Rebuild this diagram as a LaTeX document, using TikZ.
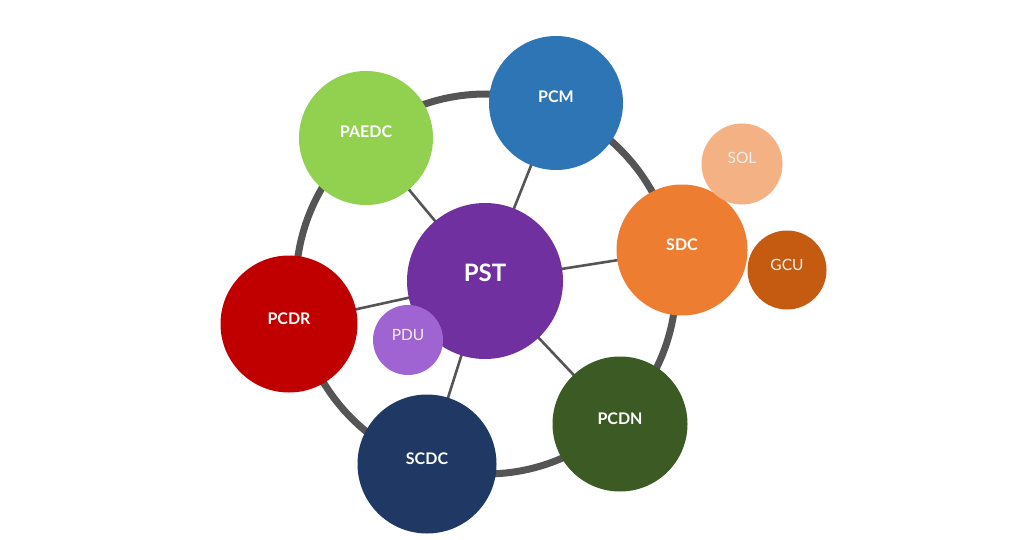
\documentclass[tikz,border=0pt]{standalone}
\usepackage{fontspec}
\setmainfont{Lato}
\usetikzlibrary{backgrounds}
\definecolor{cPAEDC}{HTML}{92D050}
\definecolor{cPCM}{HTML}{2E75B6}
\definecolor{cSDC}{HTML}{ED7D31}
\definecolor{cSOL}{HTML}{F4B183}
\definecolor{cGCU}{HTML}{C55A11}
\definecolor{cPST}{HTML}{7030A0}
\definecolor{cPDU}{HTML}{A064D2}
\definecolor{cPCDR}{HTML}{C00000}
\definecolor{cSCDC}{HTML}{1F3864}
\definecolor{cPCDN}{HTML}{3B5A24}
\definecolor{ringgray}{HTML}{555555}
\begin{document}
\begin{tikzpicture}[x=1pt,y=-1pt,
  bub/.style={circle,inner sep=0pt,text height=0pt,text depth=0pt,text=white,font=\bfseries\fontsize{16}{16}\selectfont},
  smallbub/.style={circle,inner sep=0pt,text height=0pt,text depth=0pt,text=white!94!black,font=\fontsize{15.5}{15.5}\selectfont},
  spoke/.style={draw=ringgray,line width=2.6pt},
  ring/.style={draw=ringgray,line width=7pt}]
\useasboundingbox (0,0) rectangle (1024,540);
\coordinate (rc) at (486,284);
\path
  (485,281) node[bub,minimum size=156pt,fill=cPST,font=\bfseries\fontsize{24}{24}\selectfont] (PST) {PST}
  (366,138) node[bub,minimum size=134pt,fill=cPAEDC] (PAEDC) {PAEDC}
  (556,103) node[bub,minimum size=134pt,fill=cPCM] (PCM) {PCM}
  (682,250) node[bub,minimum size=131pt,fill=cSDC] (SDC) {SDC}
  (289,324) node[bub,minimum size=137pt,fill=cPCDR] (PCDR) {PCDR}
  (427,464) node[bub,minimum size=139pt,fill=cSCDC] (SCDC) {SCDC}
  (620,424) node[bub,minimum size=135pt,fill=cPCDN] (PCDN) {PCDN}
  (742,164) node[smallbub,minimum size=81pt,fill=cSOL] (SOL) {SOL}
  (787,270) node[smallbub,minimum size=79pt,fill=cGCU] (GCU) {GCU}
  (408,340) node[smallbub,minimum size=70pt,fill=cPDU] (PDU) {PDU};
\begin{scope}[on background layer]
  \fill[white] (0,0) rectangle (1024,540);
  \draw[ring] (rc) circle[radius=190];
  \foreach \n in {PAEDC,PCM,SDC,PCDR,SCDC,PCDN}
    \draw[spoke] (PST.center) -- (\n.center);
\end{scope}
\end{tikzpicture}
\end{document}
